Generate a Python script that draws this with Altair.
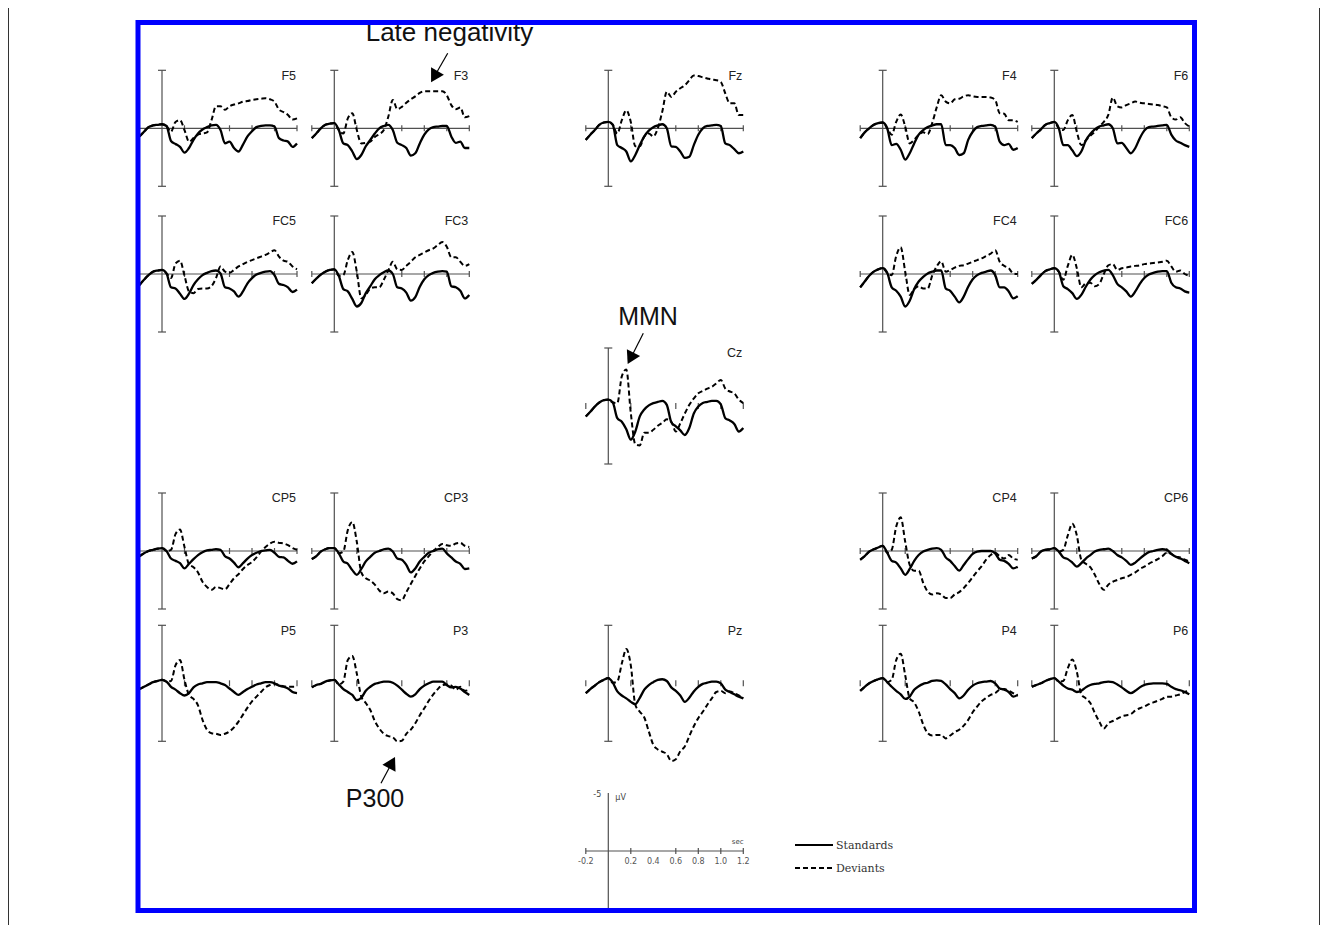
import math
import altair as alt
import pandas as pd

# ---------------- data (µV, negative plotted up) ----------------
TIMES = [-0.2, -0.16, -0.12, -0.08, -0.04, 0.0, 0.04, 0.08, 0.12, 0.16, 0.2, 0.24,
         0.28, 0.32, 0.36, 0.4, 0.44, 0.48, 0.52, 0.56, 0.6, 0.64, 0.68, 0.72,
         0.76, 0.8, 0.84, 0.88, 0.92, 0.96, 1.0, 1.04, 1.08, 1.12, 1.16, 1.2]

F5_STD = [0.7, 0.3, -0.1, -0.25, -0.3, -0.35, -0.2, 1.1, 1.35, 1.6, 2.1, 1.7, 1.0, 0.45, 0.1, -0.1, -0.25, -0.3, 0.15, 1.3, 1.15, 1.7, 2.0, 1.4, 0.7, 0.25, -0.1, -0.2, -0.25, -0.25, -0.15, 0.85, 1.05, 1.15, 1.6, 1.3]
F5_DEV = [0.7, 0.3, -0.1, -0.25, -0.3, -0.35, -0.2, 0.3, -0.55, -0.7, 0.15, 1.15, 0.85, 0.55, 0.45, 0.35, -0.7, -1.9, -1.9, -1.6, -1.9, -2.05, -2.15, -2.3, -2.35, -2.45, -2.5, -2.55, -2.6, -2.5, -2.3, -1.6, -1.4, -1.15, -0.75, -0.85]
F3_STD = [0.85, 0.45, 0, -0.3, -0.4, -0.45, 0.15, 1.3, 1.45, 2.0, 2.65, 2.3, 1.55, 1.0, 0.45, 0, -0.2, -0.3, 0.15, 1.25, 1.45, 1.7, 2.35, 2.15, 1.3, 0.55, 0.1, -0.1, -0.15, -0.2, -0.2, 0.7, 1.25, 1.15, 1.7, 1.7]
F3_DEV = [0.85, 0.45, 0, -0.3, -0.4, -0.45, 0.15, 0.45, -0.85, -1.3, 0.15, 1.3, 1.25, 1.15, 0.75, 0.5, 0.15, -1.0, -2.45, -1.65, -1.85, -2.2, -2.5, -2.75, -3.05, -3.2, -3.2, -3.2, -3.2, -3.2, -2.85, -2.0, -1.65, -1.8, -0.95, -1.05]
FZ_STD = [1.0, 0.55, 0.15, -0.3, -0.5, -0.55, -0.3, 1.45, 1.7, 2.0, 2.85, 2.3, 1.45, 0.7, 0.2, -0.1, -0.25, -0.35, 0, 1.55, 1.6, 2.0, 2.55, 2.45, 1.45, 0.55, 0, -0.2, -0.25, -0.3, -0.2, 1.3, 1.45, 1.8, 2.15, 2.0]
FZ_DEV = [1.0, 0.55, 0.15, -0.3, -0.5, -0.55, -0.3, 0.45, -0.7, -1.55, -0.55, 1.55, 1.55, 0.7, 0.45, 0.7, 0, -1.45, -3.15, -2.7, -3.15, -3.45, -3.7, -4.15, -4.55, -4.5, -4.4, -4.3, -4.2, -4.15, -4.0, -3.0, -2.15, -2.15, -1.15, -1.15]
F4_STD = [0.85, 0.35, 0, -0.3, -0.45, -0.5, 0, 1.45, 1.35, 1.85, 2.7, 2.15, 1.3, 0.55, 0.15, -0.1, -0.25, -0.35, -0.35, 1.45, 1.45, 1.7, 2.3, 2.15, 1.0, 0.3, -0.1, -0.2, -0.25, -0.3, -0.15, 1.15, 1.45, 1.35, 1.85, 1.7]
F4_DEV = [0.85, 0.35, 0, -0.3, -0.45, -0.5, 0, 0.55, -0.55, -1.2, -0.15, 1.3, 1.0, 0.55, 0.35, 0.5, -0.45, -1.8, -2.85, -2.3, -2.15, -2.5, -2.55, -2.75, -2.85, -2.75, -2.7, -2.7, -2.7, -2.65, -2.45, -1.3, -1.25, -0.7, -0.7, -0.55]
F6_STD = [0.85, 0.45, 0.1, -0.3, -0.45, -0.55, 0, 1.45, 1.45, 1.9, 2.4, 2.0, 1.05, 0.5, 0.1, -0.15, -0.25, -0.35, 0, 1.3, 1.25, 1.7, 2.15, 1.7, 0.85, 0.2, -0.1, -0.15, -0.2, -0.25, -0.3, 0.55, 1.05, 1.25, 1.45, 1.6]
F6_DEV = [0.85, 0.45, 0.1, -0.3, -0.45, -0.55, 0, 0.15, -0.7, -1.15, 0.3, 1.45, 1.05, 0.65, 0.3, -0.15, -0.55, -1.15, -2.65, -1.9, -1.8, -2.0, -2.15, -2.3, -2.2, -2.15, -2.1, -2.05, -2.0, -1.9, -1.8, -0.95, -0.75, -0.95, -0.45, -0.15]
FC5_STD = [0.95, 0.5, 0.1, -0.2, -0.3, -0.35, -0.05, 1.15, 1.25, 1.7, 2.15, 1.7, 0.95, 0.45, 0.1, -0.1, -0.25, -0.3, -0.05, 1.15, 1.25, 1.5, 1.95, 1.5, 0.8, 0.35, 0.05, -0.1, -0.2, -0.25, 0.1, 0.85, 0.95, 1.15, 1.55, 1.35]
FC5_DEV = [0.95, 0.5, 0.1, -0.2, -0.3, -0.35, -0.05, 0.35, -0.9, -1.15, 0.15, 1.5, 1.65, 1.3, 1.25, 1.25, 1.05, 0.35, -0.65, -0.2, -0.1, -0.35, -0.65, -0.85, -1.05, -1.2, -1.35, -1.5, -1.65, -1.85, -2.05, -1.5, -1.15, -1.05, -0.65, -0.4]
FC3_STD = [0.8, 0.4, 0.05, -0.2, -0.35, -0.4, 0.15, 1.3, 1.5, 2.15, 2.8, 2.5, 1.65, 1.05, 0.45, 0.1, -0.15, -0.3, 0, 1.15, 1.25, 1.6, 2.3, 2.0, 1.1, 0.45, 0.1, -0.1, -0.2, -0.25, -0.2, 1.05, 1.15, 1.45, 2.1, 1.8]
FC3_DEV = [0.8, 0.4, 0.05, -0.2, -0.35, -0.4, 0.15, 0.1, -1.2, -1.9, -0.2, 2.1, 1.8, 1.25, 1.15, 1.15, 0.5, -0.3, -1.05, -0.4, -0.35, -0.7, -1.05, -1.45, -1.65, -1.85, -2.05, -2.2, -2.5, -2.75, -2.35, -1.45, -1.45, -1.05, -0.7, -0.85]
FC4_STD = [1.15, 0.65, 0.15, -0.2, -0.4, -0.5, -0.1, 1.15, 1.45, 1.95, 2.8, 2.3, 1.3, 0.65, 0.25, -0.05, -0.2, -0.3, -0.3, 1.25, 1.45, 1.95, 2.45, 1.95, 1.1, 0.45, 0.1, -0.1, -0.2, -0.3, 0.1, 1.15, 1.15, 1.5, 2.1, 1.9]
FC4_DEV = [1.15, 0.65, 0.15, -0.2, -0.4, -0.5, -0.1, 0.1, -1.55, -2.3, -0.2, 1.8, 1.3, 1.05, 1.25, 1.25, 0.15, -0.65, -1.1, -0.2, -0.35, -0.55, -0.7, -0.75, -0.9, -1.05, -1.2, -1.35, -1.55, -1.75, -2.05, -1.05, -0.7, -0.5, -0.05, 0]
FC6_STD = [0.85, 0.5, 0.1, -0.25, -0.4, -0.5, -0.2, 1.05, 1.3, 1.65, 2.15, 1.8, 1.1, 0.5, 0.1, -0.15, -0.3, -0.35, 0.1, 0.85, 1.15, 1.5, 1.95, 1.5, 0.85, 0.35, 0.05, -0.1, -0.2, -0.25, -0.25, 0.75, 1.15, 1.25, 1.5, 1.6]
FC6_DEV = [0.85, 0.5, 0.1, -0.25, -0.4, -0.5, -0.2, 0.5, -0.7, -1.65, -0.5, 1.15, 0.8, 0.75, 1.05, 0.85, 0, -0.75, -0.85, -0.35, -0.5, -0.55, -0.65, -0.7, -0.75, -0.85, -0.9, -0.95, -1.0, -1.05, -1.15, -0.65, -0.2, -0.3, 0, 0.15]
CZ_STD = [0.9, 0.5, 0.05, -0.3, -0.5, -0.55, -0.3, 1.05, 1.35, 2.0, 2.9, 2.2, 0.9, 0.3, -0.05, -0.25, -0.35, -0.45, -0.1, 1.4, 1.75, 2.1, 2.5, 1.9, 0.65, 0.05, -0.25, -0.35, -0.45, -0.45, -0.15, 1.05, 1.25, 1.55, 2.2, 1.9]
CZ_DEV = [0.9, 0.5, 0.05, -0.3, -0.5, -0.55, -0.3, -0.25, -2.55, -3.15, 0.6, 3.3, 3.4, 2.3, 2.3, 2.05, 1.7, 1.45, 1.15, 1.35, 2.2, 1.5, 0.65, -0.1, -0.65, -1.1, -1.3, -1.5, -1.65, -1.95, -2.25, -1.5, -1.25, -1.1, -0.55, -0.25]
CP5_STD = [0.45, 0.2, 0, -0.1, -0.2, -0.25, 0, 0.65, 0.85, 1.05, 1.5, 1.1, 0.7, 0.35, 0.1, -0.05, -0.1, -0.15, -0.1, 0.45, 0.65, 1.0, 1.4, 1.05, 0.65, 0.35, 0.15, 0, -0.05, -0.1, 0.15, 0.5, 0.55, 0.85, 1.1, 0.9]
CP5_DEV = [0.45, 0.2, 0, -0.1, -0.2, -0.25, 0, -0.1, -1.45, -1.85, -0.35, 1.15, 1.4, 1.85, 2.65, 3.1, 3.35, 3.1, 3.2, 3.3, 2.85, 2.35, 2.0, 1.55, 1.2, 0.95, 0.55, 0.05, -0.35, -0.65, -0.8, -0.7, -0.65, -0.5, -0.25, -0.1]
CP3_STD = [0.7, 0.45, 0.05, -0.15, -0.25, -0.25, 0.2, 0.9, 1.1, 1.65, 2.05, 1.55, 0.9, 0.5, 0.15, 0, -0.15, -0.2, 0.05, 0.65, 0.75, 1.2, 1.85, 1.5, 0.9, 0.5, 0.15, 0, -0.15, -0.2, 0.2, 0.55, 0.9, 1.1, 1.55, 1.5]
CP3_DEV = [0.7, 0.45, 0.05, -0.15, -0.25, -0.25, 0.2, 0.05, -1.8, -2.5, -0.8, 1.85, 2.35, 2.55, 2.9, 3.4, 3.65, 3.5, 3.65, 4.15, 4.25, 3.55, 2.85, 2.15, 1.5, 0.9, 0.45, 0, -0.35, -0.6, -0.5, -0.45, -0.65, -0.7, -0.45, -0.35]
CP4_STD = [0.75, 0.45, 0.05, -0.15, -0.3, -0.45, 0.15, 0.85, 1.0, 1.5, 2.05, 1.55, 0.85, 0.35, 0.05, -0.1, -0.2, -0.25, -0.1, 0.55, 0.85, 1.3, 1.7, 1.2, 0.7, 0.25, 0.05, 0, 0, 0, 0.2, 0.75, 0.85, 1.1, 1.5, 1.35]
CP4_DEV = [0.75, 0.45, 0.05, -0.15, -0.3, -0.45, 0.15, -0.1, -2.1, -2.9, -0.8, 1.2, 1.7, 1.7, 2.75, 3.5, 3.75, 3.65, 3.75, 4.05, 4.05, 3.75, 3.55, 3.2, 2.75, 2.25, 1.75, 1.3, 0.75, 0.35, 0.15, 0.45, 0.65, 0.35, 0.65, 0.75]
CP6_STD = [0.65, 0.45, 0.05, -0.1, -0.15, -0.25, 0.05, 0.55, 0.7, 1.0, 1.35, 1.05, 0.65, 0.35, 0.05, -0.1, -0.15, -0.2, 0, 0.35, 0.55, 0.85, 1.2, 1.0, 0.65, 0.35, 0.1, 0, -0.1, -0.15, -0.1, 0.25, 0.5, 0.65, 0.85, 1.05]
CP6_DEV = [0.65, 0.45, 0.05, -0.1, -0.15, -0.25, 0.05, -0.1, -1.35, -2.35, -1.35, 0.75, 1.1, 1.4, 2.05, 2.85, 3.35, 2.9, 2.65, 2.5, 2.35, 2.25, 2.05, 1.85, 1.55, 1.35, 1.1, 0.9, 0.7, 0.45, 0.15, 0.25, 0.5, 0.55, 0.75, 0.9]
P5_STD = [0.5, 0.3, 0.1, -0.1, -0.2, -0.3, -0.15, 0.3, 0.55, 0.85, 1.05, 0.85, 0.35, 0.1, 0, -0.1, -0.1, -0.1, 0, 0.15, 0.45, 0.75, 1.0, 0.75, 0.5, 0.3, 0.1, 0, -0.1, -0.1, 0, 0.2, 0.3, 0.45, 0.75, 0.85]
P5_DEV = [0.5, 0.3, 0.1, -0.1, -0.2, -0.3, -0.15, -0.2, -1.55, -2.0, -0.3, 1.0, 1.35, 1.9, 3.15, 4.0, 4.3, 4.35, 4.45, 4.35, 4.15, 3.8, 3.3, 2.7, 2.1, 1.55, 1.15, 0.75, 0.35, 0.15, 0.05, 0.15, 0.25, 0.3, 0.3, 0.3]
P3_STD = [0.35, 0.15, 0.05, -0.15, -0.25, -0.3, 0.1, 0.5, 0.75, 1.0, 1.45, 1.25, 0.65, 0.3, 0.05, -0.05, -0.15, -0.15, -0.05, 0.2, 0.55, 0.9, 1.15, 0.95, 0.5, 0.2, 0, -0.15, -0.15, -0.15, 0.15, 0.35, 0.3, 0.45, 0.75, 1.0]
P3_DEV = [0.35, 0.15, 0.05, -0.15, -0.25, -0.3, 0.1, -0.15, -2.0, -2.35, -0.85, 1.15, 1.7, 2.3, 3.25, 3.9, 4.35, 4.55, 4.65, 5.0, 4.95, 4.35, 4.0, 3.45, 2.75, 2.15, 1.5, 0.95, 0.5, 0.15, 0.1, 0.2, 0.55, 0.3, 0.65, 0.55]
PZ_STD = [0.85, 0.5, 0.2, -0.1, -0.3, -0.45, -0.05, 0.7, 1.05, 1.3, 1.6, 1.8, 1.25, 0.55, 0.15, -0.1, -0.3, -0.35, -0.2, 0.35, 0.65, 1.05, 1.6, 1.25, 0.7, 0.3, 0.05, -0.05, -0.15, -0.15, 0, 0.55, 0.75, 0.95, 1.15, 1.3]
PZ_DEV = [0.85, 0.5, 0.2, -0.1, -0.3, -0.45, -0.05, -0.15, -1.7, -2.95, -1.55, 1.85, 2.45, 2.95, 4.15, 5.3, 5.7, 5.9, 6.1, 6.7, 6.55, 5.85, 5.45, 4.55, 3.7, 3.0, 2.45, 1.85, 1.3, 0.75, 0.65, 0.85, 0.7, 0.85, 1.05, 1.3]
P4_STD = [0.65, 0.3, 0, -0.2, -0.35, -0.45, -0.1, 0.3, 0.65, 0.95, 1.35, 1.15, 0.55, 0.25, 0.05, -0.05, -0.2, -0.25, -0.2, 0.1, 0.5, 0.85, 1.3, 1.05, 0.55, 0.2, 0, -0.1, -0.15, -0.2, 0, 0.45, 0.55, 0.75, 1.15, 1.0]
P4_DEV = [0.65, 0.3, 0, -0.2, -0.35, -0.45, -0.1, -0.3, -2.0, -2.55, -0.7, 1.3, 1.65, 2.45, 3.55, 4.3, 4.5, 4.45, 4.45, 4.75, 4.5, 4.2, 4.0, 3.65, 3.15, 2.5, 2.0, 1.55, 1.25, 1.0, 0.85, 0.55, 0.5, 0.65, 0.85, 1.0]
P6_STD = [0.3, 0.15, 0, -0.2, -0.35, -0.45, -0.15, 0.2, 0.45, 0.55, 0.75, 0.65, 0.35, 0.15, 0.05, 0, -0.1, -0.15, -0.1, 0.1, 0.35, 0.65, 0.85, 0.65, 0.35, 0.15, 0.05, 0, 0, 0, 0.05, 0.3, 0.5, 0.6, 0.75, 0.95]
P6_DEV = [0.3, 0.15, 0, -0.2, -0.35, -0.45, -0.15, -0.2, -1.3, -2.05, -1.0, 0.95, 1.3, 1.7, 2.55, 3.3, 3.9, 3.45, 3.25, 3.05, 2.85, 2.75, 2.65, 2.35, 2.15, 2.0, 1.8, 1.65, 1.5, 1.35, 1.15, 1.15, 1.05, 0.95, 0.75, 0.65]

# electrode, grid column, grid row, standards, deviants
PANELS = [
    ("F5", 0, 0, F5_STD, F5_DEV), ("F3", 1, 0, F3_STD, F3_DEV), ("Fz", 2, 0, FZ_STD, FZ_DEV),
    ("F4", 3, 0, F4_STD, F4_DEV), ("F6", 4, 0, F6_STD, F6_DEV),
    ("FC5", 0, 1, FC5_STD, FC5_DEV), ("FC3", 1, 1, FC3_STD, FC3_DEV),
    ("FC4", 3, 1, FC4_STD, FC4_DEV), ("FC6", 4, 1, FC6_STD, FC6_DEV),
    ("Cz", 2, 2, CZ_STD, CZ_DEV),
    ("CP5", 0, 3, CP5_STD, CP5_DEV), ("CP3", 1, 3, CP3_STD, CP3_DEV),
    ("CP4", 3, 3, CP4_STD, CP4_DEV), ("CP6", 4, 3, CP6_STD, CP6_DEV),
    ("P5", 0, 4, P5_STD, P5_DEV), ("P3", 1, 4, P3_STD, P3_DEV), ("Pz", 2, 4, PZ_STD, PZ_DEV),
    ("P4", 3, 4, P4_STD, P4_DEV), ("P6", 4, 4, P6_STD, P6_DEV),
]

PANEL_TICKS = [-0.2, 0.2, 0.6, 0.8, 1.0, 1.2]
SCALE_TICKS = [-0.2, 0.2, 0.6, 0.8, 1.0, 1.2]
SCALE_LABELS = ["-0.2", "0.2", "0.4", "0.6", "0.8", "1.0", "1.2"]
SCALE_LABEL_T = [-0.2, 0.2, 0.4, 0.6, 0.8, 1.0, 1.2]

# ---------------- layout ----------------
W, H = 1312, 917
SEC_PX = 112.5           # pixels per second
UV_PX = 11.6             # pixels per microvolt
COL_X = [154.0, 326.3, 600.3, 874.7, 1046.3]
ROW_Y = [120.3, 266.0, 398.0, 543.0, 675.3]
ROW_BASELINE = [True, True, False, True, False]
SCALE_X, SCALE_Y = 600.3, 843.0
FRAME = dict(x=130.0, x2=1186.5, y=14.5, y2=902.5)

XS = alt.Scale(domain=[0, W], nice=False, zero=False)
YS = alt.Scale(domain=[0, H], nice=False, zero=False, reverse=True)
AX = None


def px(t, col):
    return col + t * SEC_PX


def py(v, row):
    return row + v * UV_PX


# waveform table
wave_rows = []
for name, c, r, std, dev in PANELS:
    for cond, arr in (("Standards", std), ("Deviants", dev)):
        for t, v in zip(TIMES, arr):
            wave_rows.append(dict(electrode=name, condition=cond, t=t, uv=v,
                                  x=px(t, COL_X[c]), y=py(v, ROW_Y[r])))
wave = pd.DataFrame(wave_rows)

# axis segments
seg = []
for name, c, r, _, _ in PANELS:
    x0, y0 = COL_X[c], ROW_Y[r]
    seg.append((x0, py(-5, y0), x0, py(5, y0)))
    seg.append((x0 - 4, py(-5, y0), x0 + 4, py(-5, y0)))
    seg.append((x0 - 4, py(5, y0), x0 + 4, py(5, y0)))
    if ROW_BASELINE[r]:
        seg.append((px(-0.2, x0), y0, px(1.2, x0), y0))
    for tk in PANEL_TICKS:
        seg.append((px(tk, x0), y0 - 3, px(tk, x0), y0 + 3))
# scale bar
seg.append((SCALE_X, py(-5, SCALE_Y), SCALE_X, py(5, SCALE_Y)))
seg.append((px(-0.2, SCALE_X), SCALE_Y, px(1.2, SCALE_X), SCALE_Y))
for tk in SCALE_TICKS:
    seg.append((px(tk, SCALE_X), SCALE_Y - 3, px(tk, SCALE_X), SCALE_Y + 3))
segs = pd.DataFrame(seg, columns=["x", "y", "x2", "y2"])


def enc(chart):
    return chart.encode(
        x=alt.X("x:Q", scale=XS, axis=AX),
        y=alt.Y("y:Q", scale=YS, axis=AX),
    )


axes_layer = alt.Chart(segs).mark_rule(color="#505050", strokeWidth=1.2).encode(
    x=alt.X("x:Q", scale=XS, axis=AX), y=alt.Y("y:Q", scale=YS, axis=AX),
    x2="x2:Q", y2="y2:Q")

std_layer = enc(alt.Chart(wave).transform_filter(alt.datum.condition == "Standards")
                .mark_line(color="black", strokeWidth=2.3, interpolate="monotone")).encode(
    detail="electrode:N", order="t:Q")
dev_layer = enc(alt.Chart(wave).transform_filter(alt.datum.condition == "Deviants")
                .mark_line(color="black", strokeWidth=2.0, strokeDash=[5, 3],
                           interpolate="monotone")).encode(
    detail="electrode:N", order="t:Q")

# electrode labels
lab = pd.DataFrame([dict(text=name, x=px(1.2, COL_X[c]) - 1,
                         y=py(-4.55, ROW_Y[r])) for name, c, r, _, _ in PANELS])
label_layer = enc(alt.Chart(lab).mark_text(align="right", baseline="middle",
                                           font="Liberation Sans", fontSize=12.5,
                                           color="#222222")).encode(text="text:N")

# annotations
ANN_TEXT = ["Late negativity", "MMN", "P300"]
ANN_X = [441.5, 640.0, 367.0]
ANN_Y = [32.7, 317.0, 798.7]
ANN_SIZE = [26, 25, 25]
ann = pd.DataFrame(dict(text=ANN_TEXT, x=ANN_X, y=ANN_Y, size=ANN_SIZE))
ann_layer = enc(alt.Chart(ann).mark_text(align="center", baseline="alphabetic",
                                         font="Liberation Sans", color="#111111")).encode(
    text="text:N", size=alt.Size("size:Q", scale=None))

ARROW_START = [(439.7, 45.3), (635.3, 325.3), (373.0, 775.3)]
ARROW_TIP = [(422.0, 76.0), (618.7, 358.0), (388.0, 747.0)]
HEAD_SIZE = 220
r_head = math.sqrt(HEAD_SIZE) / 2
shafts, heads = [], []
for (sx, sy), (tx, ty) in zip(ARROW_START, ARROW_TIP):
    dx, dy = tx - sx, ty - sy
    L = math.hypot(dx, dy)
    ux, uy = dx / L, dy / L
    shafts.append((sx, sy, tx - ux * 1.6 * r_head, ty - uy * 1.6 * r_head))
    heads.append(dict(x=tx - ux * 1.155 * r_head, y=ty - uy * 1.155 * r_head,
                      ang=math.degrees(math.atan2(dx, -dy)) % 360))
shaft_df = pd.DataFrame(shafts, columns=["x", "y", "x2", "y2"])
head_df = pd.DataFrame(heads)
shaft_layer = alt.Chart(shaft_df).mark_rule(color="black", strokeWidth=1.2).encode(
    x=alt.X("x:Q", scale=XS, axis=AX), y=alt.Y("y:Q", scale=YS, axis=AX),
    x2="x2:Q", y2="y2:Q")
head_layer = enc(alt.Chart(head_df).mark_point(shape="triangle-up", filled=True,
                                               color="black", opacity=1,
                                               size=HEAD_SIZE)).encode(
    angle=alt.Angle("ang:Q", scale=None))

# scale bar labels
sl = pd.DataFrame(dict(text=SCALE_LABELS,
                       x=[px(t, SCALE_X) for t in SCALE_LABEL_T],
                       y=[SCALE_Y + 11] * len(SCALE_LABELS)))
scale_lab_layer = enc(alt.Chart(sl).mark_text(align="center", baseline="middle",
                                              font="DejaVu Sans", fontSize=8,
                                              color="#555555")).encode(text="text:N")
misc = pd.DataFrame(dict(text=["-5", "\u00b5V", "sec"],
                         x=[SCALE_X - 7, SCALE_X + 7, px(1.15, SCALE_X)],
                         y=[py(-4.85, SCALE_Y), py(-4.6, SCALE_Y), SCALE_Y - 9],
                         al=["right", "left", "center"]))
misc_r = enc(alt.Chart(misc[misc.al == "right"]).mark_text(
    align="right", baseline="middle", font="DejaVu Sans", fontSize=8,
    color="#444444")).encode(text="text:N")
misc_l = enc(alt.Chart(misc[misc.al == "left"]).mark_text(
    align="left", baseline="middle", font="DejaVu Sans", fontSize=8,
    color="#444444")).encode(text="text:N")
misc_c = enc(alt.Chart(misc[misc.al == "center"]).mark_text(
    align="center", baseline="middle", font="DejaVu Sans", fontSize=7,
    color="#444444")).encode(text="text:N")

# legend
LEGEND_NAMES = ["Standards", "Deviants"]
LEG_X, LEG_X2, LEG_Y = 787.0, 825.0, [837.0, 860.0]
leg_std = alt.Chart(pd.DataFrame(dict(x=[LEG_X], x2=[LEG_X2], y=[LEG_Y[0]]))).mark_rule(
    color="black", strokeWidth=2.0).encode(
    x=alt.X("x:Q", scale=XS, axis=AX), x2="x2:Q", y=alt.Y("y:Q", scale=YS, axis=AX))
leg_dev = alt.Chart(pd.DataFrame(dict(x=[LEG_X], x2=[LEG_X2], y=[LEG_Y[1]]))).mark_rule(
    color="black", strokeWidth=2.0, strokeDash=[5, 3]).encode(
    x=alt.X("x:Q", scale=XS, axis=AX), x2="x2:Q", y=alt.Y("y:Q", scale=YS, axis=AX))
leg_txt = enc(alt.Chart(pd.DataFrame(dict(text=LEGEND_NAMES, x=[LEG_X2 + 3] * 2,
                                          y=[LEG_Y[0] + 0.5, LEG_Y[1] + 0.5])))
              .mark_text(align="left", baseline="middle", font="DejaVu Serif",
                         fontSize=11, color="#333333")).encode(text="text:N")

# frames
frame_layer = alt.Chart(pd.DataFrame([FRAME])).mark_rect(
    fill="transparent", stroke="#0000ff", strokeWidth=5).encode(
    x=alt.X("x:Q", scale=XS, axis=AX), x2="x2:Q",
    y=alt.Y("y:Q", scale=YS, axis=AX), y2="y2:Q")
edge_layer = alt.Chart(pd.DataFrame(dict(x=[0.5, W - 0.5], y=[0, 0], y2=[H, H]))).mark_rule(
    color="#333333", strokeWidth=1).encode(
    x=alt.X("x:Q", scale=XS, axis=AX), y=alt.Y("y:Q", scale=YS, axis=AX), y2="y2:Q")

chart = alt.layer(
    edge_layer, axes_layer, std_layer, dev_layer, label_layer,
    scale_lab_layer, misc_r, misc_l, misc_c, leg_std, leg_dev, leg_txt,
    ann_layer, shaft_layer, head_layer, frame_layer,
).properties(width=W, height=H, padding=0, autosize="none",
             background="white").configure_view(stroke=None)

chart.save("out.html", embed_options={"renderer": "svg", "actions": False})
